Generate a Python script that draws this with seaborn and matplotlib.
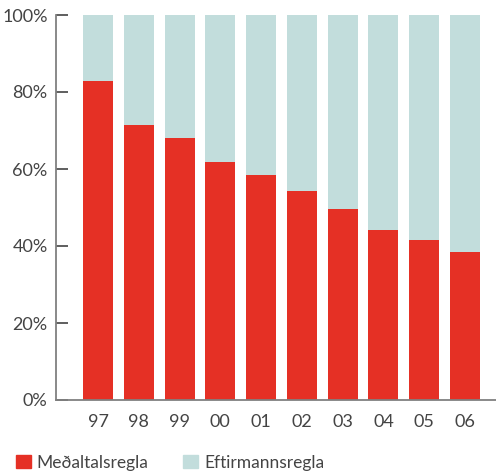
import matplotlib
matplotlib.use("Agg")
import matplotlib.pyplot as plt
import seaborn as sns
import pandas as pd
from matplotlib.patches import Patch

years = ["97", "98", "99", "00", "01", "02", "03", "04", "05", "06"]
medaltal = [82.9, 71.4, 68.0, 61.8, 58.4, 54.3, 49.6, 44.2, 41.6, 38.4]
eftirmanns = [100 - v for v in medaltal]
series_names = ["Meðaltalsregla", "Eftirmannsregla"]
yticks = [0, 20, 40, 60, 80, 100]

red = "#E53025"
teal = "#C2DDDC"
text_col = "#444444"

sns.set_style("white")
plt.rcParams["font.family"] = ["Lato", "DejaVu Sans"]

df = pd.DataFrame({"year": years, "red": medaltal, "top": eftirmanns})
df["total"] = df["red"] + df["top"]

fig = plt.figure(figsize=(4.96, 4.71), dpi=100)
ax = fig.add_axes([56 / 496, 71 / 471, 1 - 56 / 496, 385 / 471])

# stacked: draw full height in teal, red portion over it
sns.barplot(data=df, x="year", y="total", color=teal, width=0.735,
            saturation=1, ax=ax, linewidth=0)
sns.barplot(data=df, x="year", y="red", color=red, width=0.735,
            saturation=1, ax=ax, linewidth=0)

ax.set_ylim(0, 100)
ax.set_xlim(-1.03, 9.76)
ax.set_yticks(yticks)
ax.set_yticklabels([f"{t}%" for t in yticks])
ax.set_xlabel("")
ax.set_ylabel("")

for s in ["top", "right"]:
    ax.spines[s].set_visible(False)
for s in ["left", "bottom"]:
    ax.spines[s].set_color("#808080")
    ax.spines[s].set_linewidth(1.3)

ax.tick_params(axis="y", direction="in", length=8.5, width=1.1, color="#333333",
               labelsize=13, labelcolor=text_col, pad=6, left=True)
ax.tick_params(axis="x", length=0, labelsize=13, labelcolor=text_col, pad=10)

handles = [Patch(color=red, label=series_names[0]),
           Patch(color=teal, label=series_names[1])]
leg = fig.legend(handles=handles, loc="center left", bbox_to_anchor=(0.032, 0.018),
                 ncol=2, frameon=False, fontsize=12.5, handlelength=0.85,
                 handleheight=0.85, handletextpad=0.35, columnspacing=2.0,
                 borderaxespad=0, borderpad=0)
for t in leg.get_texts():
    t.set_color(text_col)

fig.savefig("out.png", dpi=100)
